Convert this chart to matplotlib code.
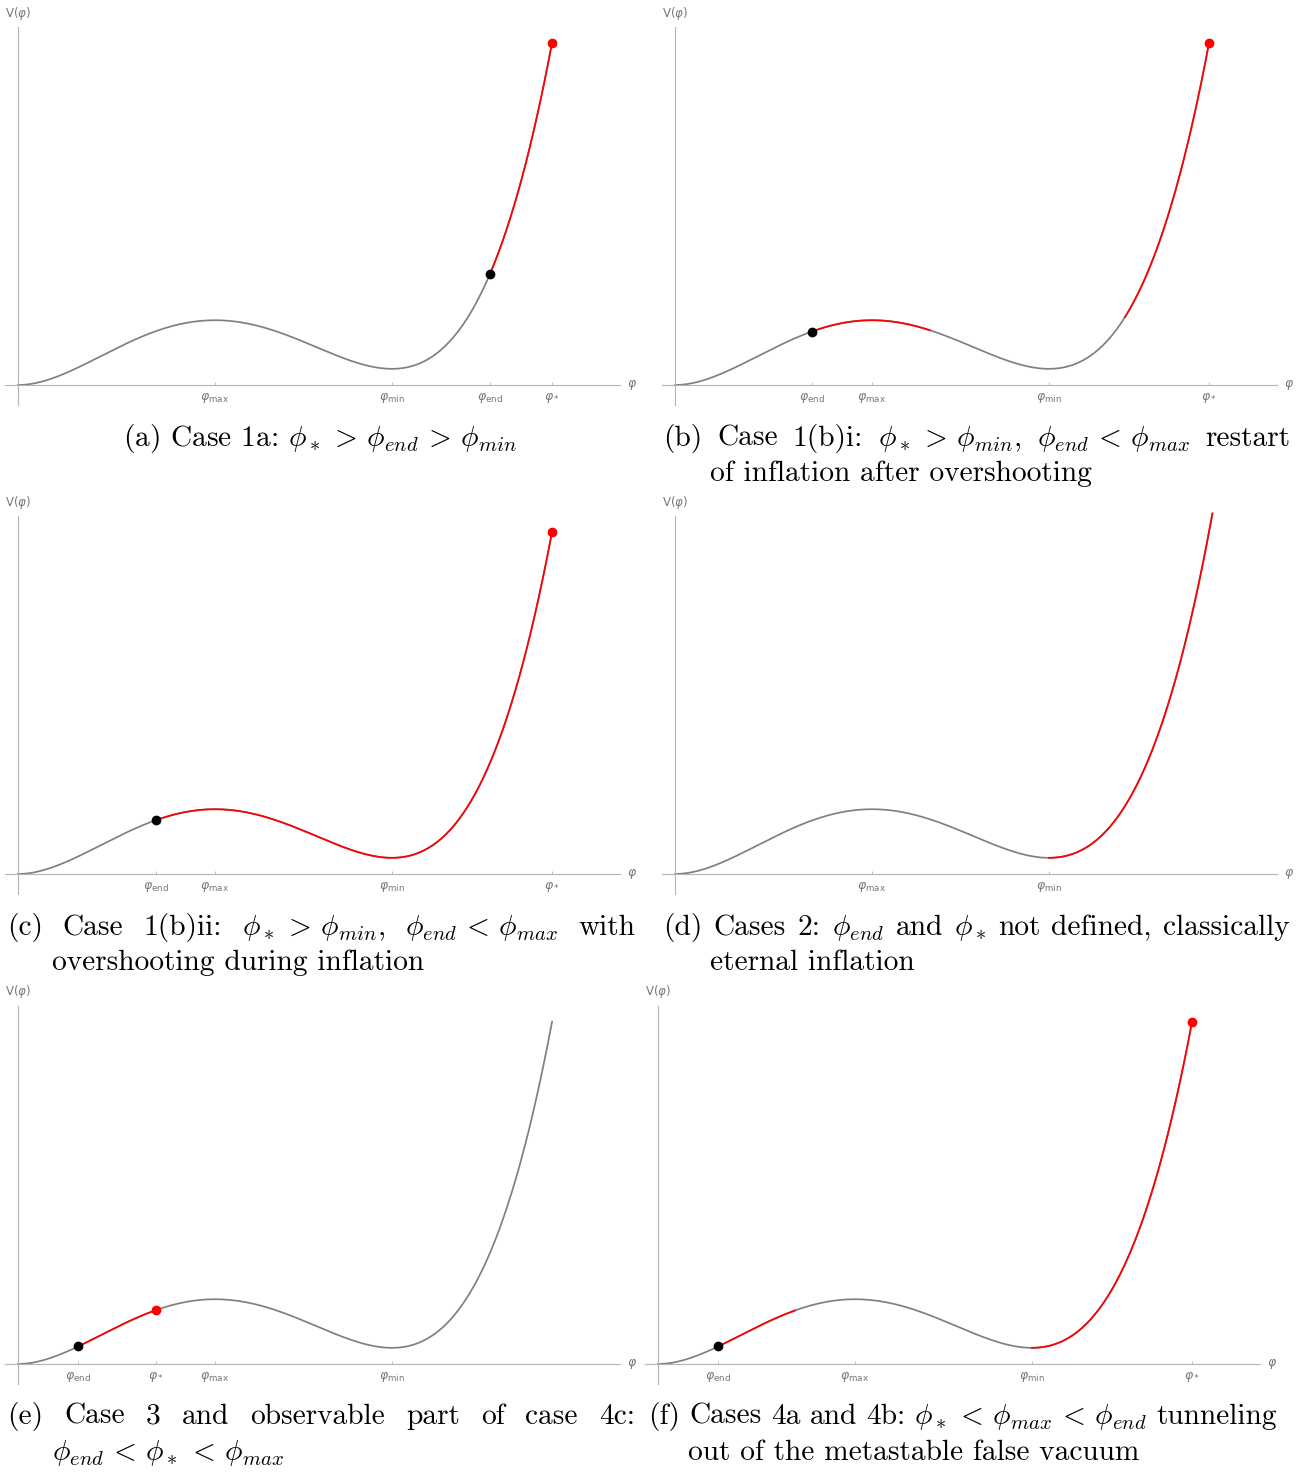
import matplotlib
matplotlib.use('Agg')
import matplotlib.pyplot as plt
import numpy as np

W, H = 1304, 1472

# potential V = phi^4/4 - (a+b) phi^3/3 + ab phi^2/2, extrema at a (max) and b (min)
PHI_MAX = 1.0
PHI_MIN = 1.898

# per panel: tick positions / labels, red stretches, dots, end of drawn curve
ticks_a = [PHI_MAX, PHI_MIN, 2.396, 2.711]
labels_a = ['max', 'min', 'end', '*']
red_a = [(2.396, 2.711)]
black_a = [2.396]
reddot_a = [2.711]
end_a = 2.711

ticks_b = [0.695, PHI_MAX, PHI_MIN, 2.711]
labels_b = ['end', 'max', 'min', '*']
red_b = [(0.695, 1.294), (2.284, 2.711)]
black_b = [0.695]
reddot_b = [2.711]
end_b = 2.711

ticks_c = [0.70, PHI_MAX, PHI_MIN, 2.711]
labels_c = ['end', 'max', 'min', '*']
red_c = [(0.70, 2.711)]
black_c = [0.70]
reddot_c = [2.711]
end_c = 2.711

ticks_d = [PHI_MAX, PHI_MIN]
labels_d = ['max', 'min']
red_d = [(PHI_MIN, 2.728)]
black_d = []
reddot_d = []
end_d = 2.728

ticks_e = [0.305, 0.70, PHI_MAX, PHI_MIN]
labels_e = ['end', '*', 'max', 'min']
red_e = [(0.305, 0.70)]
black_e = [0.305]
reddot_e = [0.70]
end_e = 2.711

ticks_f = [0.305, PHI_MAX, PHI_MIN, 2.711]
labels_f = ['end', 'max', 'min', '*']
red_f = [(0.305, 0.695), (PHI_MIN, 2.711)]
black_f = [0.305]
reddot_f = [2.711]
end_f = 2.711

PX_X = 197.0   # pixels per phi unit
PX_Y = 278.0   # pixels per V unit
CAP_SIZE = 21.2


def V(phi):
    a, b = PHI_MAX, PHI_MIN
    return phi**4 / 4 - (a + b) * phi**3 / 3 + a * b * phi**2 / 2


def drawPanel(fig, ox, ay, ticks, labels, reds, blacks, reddots, end):
    ax = fig.add_axes([(ox - 13) / W, 1 - (ay + 20) / H, 615 / W, 378 / H])
    ax.set_xlim(-13 / PX_X, 602 / PX_X)
    ax.set_ylim(-20 / PX_Y, 358 / PX_Y)
    axis_col = '#b4b4b4'
    for s in ['top', 'right']:
        ax.spines[s].set_visible(False)
    for s in ['left', 'bottom']:
        ax.spines[s].set_position(('data', 0))
        ax.spines[s].set_color(axis_col)
        ax.spines[s].set_linewidth(0.8)
    ax.set_yticks([])
    ax.set_xticks(ticks)
    ax.set_xticklabels([r'$\varphi_{\mathrm{%s}}$' % l if l != '*' else r'$\varphi_*$' for l in labels])
    ax.tick_params(axis='x', direction='in', length=2.5, width=0.6, color=axis_col,
                   labelsize=9, labelcolor='#777777', pad=4)

    phi = np.linspace(0, end, 600)
    ax.plot(phi, V(phi), color='#808080', lw=1.25, clip_on=False, zorder=2)
    for lo, hi in reds:
        p = np.linspace(lo, hi, 300)
        ax.plot(p, V(p), color='#ff0000', lw=1.25, clip_on=False, zorder=3)
    for p in blacks:
        ax.plot([p], [V(p)], 'o', color='black', ms=6, clip_on=False, zorder=4)
    for p in reddots:
        ax.plot([p], [V(p)], 'o', color='#ff0000', ms=6, clip_on=False, zorder=4)

    ax.text(0, 372 / PX_Y, r'V($\varphi$)', ha='center', va='center', fontsize=8.5,
            color='#777777')
    ax.text(614 / PX_X, 0, r'$\varphi$', ha='center', va='center', fontsize=9,
            color='#777777')
    return ax


def captionLine(fig, tokens, x0, y, x1=None, size=CAP_SIZE):
    r = fig.canvas.get_renderer()
    texts = [fig.text(0, 0, t, fontsize=size, family='cmr10', math_fontfamily='cm',
                      ha='left', va='baseline') for t in tokens]
    widths = [t.get_window_extent(renderer=r).width for t in texts]
    if x1 is None or len(tokens) == 1:
        gap = size * 100 / 72 * 0.333
    else:
        gap = (x1 - x0 - sum(widths)) / (len(tokens) - 1)
    x = x0
    for t, w in zip(texts, widths):
        t.set_position((x / W, 1 - y / H))
        x += w + gap


fig = plt.figure(figsize=(W / 100, H / 100), dpi=100)
fig.patch.set_facecolor('white')

drawPanel(fig, 18, 385, ticks_a, labels_a, red_a, black_a, reddot_a, end_a)
drawPanel(fig, 675, 385, ticks_b, labels_b, red_b, black_b, reddot_b, end_b)
drawPanel(fig, 18, 874, ticks_c, labels_c, red_c, black_c, reddot_c, end_c)
drawPanel(fig, 675, 874, ticks_d, labels_d, red_d, black_d, reddot_d, end_d)
drawPanel(fig, 18, 1364, ticks_e, labels_e, red_e, black_e, reddot_e, end_e)
drawPanel(fig, 658, 1364, ticks_f, labels_f, red_f, black_f, reddot_f, end_f)

fig.text(320 / W, 1 - 446 / H, r'(a) Case 1a: $\phi_* \,>\, \phi_{end} \,>\, \phi_{min}$',
         fontsize=CAP_SIZE, family='cmr10', math_fontfamily='cm', ha='center', va='baseline')

captionLine(fig, ['(b)', 'Case', '1(b)i:', r'$\phi_* \,>\, \phi_{min}$,',
                  r'$\phi_{end} \,<\, \phi_{max}$', 'restart'], 663, 446, 1290)
captionLine(fig, ['of inflation after overshooting'], 710, 481)

captionLine(fig, ['(c)', 'Case', '1(b)ii:', r'$\phi_* \,>\, \phi_{min}$,',
                  r'$\phi_{end} \,<\, \phi_{max}$', 'with'], 7, 935, 635)
captionLine(fig, ['overshooting during inflation'], 52, 970)

captionLine(fig, ['(d)', 'Cases', '2:', r'$\phi_{end}$', 'and', r'$\phi_*$', 'not', 'defined,',
                  'classically'], 663, 935, 1290)
captionLine(fig, ['eternal inflation'], 710, 970)

captionLine(fig, ['(e)', 'Case', '3', 'and', 'observable', 'part', 'of', 'case', '4c:'],
            7, 1424, 635)
captionLine(fig, [r'$\phi_{end} \,<\, \phi_* \,<\, \phi_{max}$'], 52, 1460)

captionLine(fig, ['(f)', 'Cases', '4a', 'and', '4b:', r'$\phi_* \,<\, \phi_{max} \,<\, \phi_{end}$',
                  'tunneling'], 648, 1424, 1277)
captionLine(fig, ['out of the metastable false vacuum'], 688, 1460)

fig.savefig('out.png', dpi=100, facecolor='white')
